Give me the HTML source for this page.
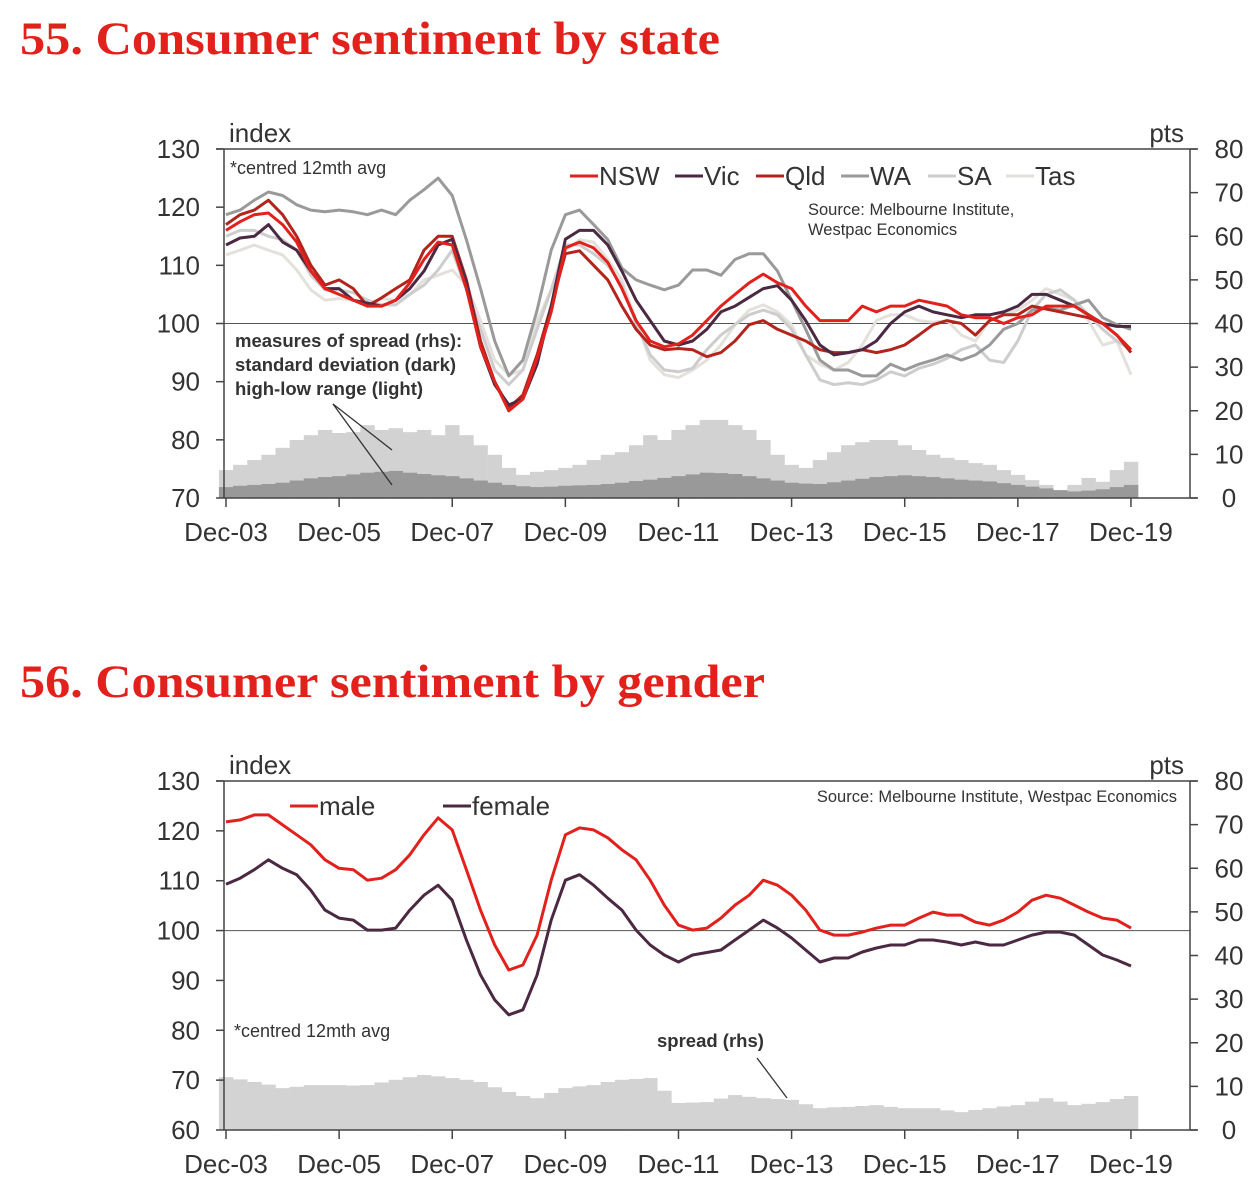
<!DOCTYPE html>
<html><head><meta charset="utf-8"><style>
html,body{margin:0;padding:0;background:#fff;}
svg{display:block;}
text{font-family:"Liberation Sans",sans-serif;fill:#333;}
.title{font-family:"Liberation Serif",serif;font-weight:bold;fill:#e2211c;font-size:47px;}
</style></head><body>
<svg id="svg" width="1256" height="1192" xmlns="http://www.w3.org/2000/svg">
<text class="title" x="20" y="54" textLength="700" lengthAdjust="spacingAndGlyphs">55. Consumer sentiment by state</text>
<text class="title" x="20" y="697" textLength="745" lengthAdjust="spacingAndGlyphs">56. Consumer sentiment by gender</text>
</svg>
<script>
// time axis: years since Dec-03, quarterly
const quarters = [];
for (let i = 0; i <= 64; i++) quarters.push(i / 4);
const xTickLabels = ["Dec-03","Dec-05","Dec-07","Dec-09","Dec-11","Dec-13","Dec-15","Dec-17","Dec-19"];

// Chart 55
const nsw = [116,117.5,118.7,119,117,114,109,106,105,104,103,103,104,107,111,114,113.5,106,96,90,85,87,94,102,113,114,113,110.5,106,100.5,97,96,96.5,98,100.5,103,105,107,108.5,107,106,103,100.5,100.5,100.5,103,102,103,103,104,103.5,103,101.5,101,101,100,101,101.5,103,103,103,101.5,100,98,95.5];
const vic = [113.5,114.7,115,117,114,112.6,109,106,106,104,103.5,103,104,106,109,113.5,114.5,107,96,89.5,86,87,93,103,114.5,116,116,113.5,109,104,100.5,97,96.3,97,99,102,103,104.5,106,106.5,104,100.5,96.3,94.6,95,95.5,97,100,102,103,102,101.5,101,101.5,101.5,102,103,105,105,104,103,101.5,100,99.5,99.5];
const qld = [117,118.7,119.5,121.2,118.7,115,110,106.6,107.5,106,103,104.4,106,107.5,112.6,115,115,107.5,97,90,85.5,87.7,94.6,103,112,112.5,110,107.5,103,99,96.3,95.5,95.7,95.5,94.3,95,97,99.8,100.5,99,98,97,95.5,95,95,95.5,95,95.5,96.3,98,99.8,100.5,100,98,100.5,101.5,101.5,103,102.5,102,101.5,101,100,98,95];
const wa = [118.7,119.5,121.2,122.6,122,120.4,119.5,119.2,119.5,119.2,118.7,119.5,118.7,121.2,123,125,122,114.4,106,97,91,93.7,102.3,112.6,118.7,119.5,117,114.4,109.5,107.5,106.6,105.8,106.6,109.2,109.2,108.3,111,112,112,109,104,99,93.7,92,92,91,91,93,92,93,93.7,94.6,93.7,94.6,96.3,99,100,102.3,102.6,102.3,103.2,104,101,99.8,99];
const sa = [115,116,116,115,114.4,112.6,108.3,105.8,105.8,105.3,104,103.2,103.2,105,106.6,109.2,112.6,105.8,99,92,89.5,92,99,105.8,113.5,113.5,112,110,106.6,100,94.6,92,91.7,92.3,95.5,98,99.8,101.5,102.3,101.5,99,94.6,90.3,89.5,89.8,89.5,90.3,91.7,91,92.3,93,94,95.5,96.3,93.7,93.3,97,102.3,105,105.8,104,101.5,99,97,95.5];
const tas = [111.8,112.6,113.5,112.6,111.8,109.2,105.8,104,104.3,104,103.2,104.3,104,105,107.5,108.3,109.2,106.6,100.5,93.7,91.2,92,100.5,105.8,112.6,114.4,114,111,107.5,100.5,93.7,91.2,90.7,92,93.7,96.3,99.8,102.3,103.2,102,99.8,94.6,93,92,93.3,96.3,100.5,101.5,101.5,100.5,100.2,100.5,98,97,100.5,101.5,102.3,104,106,105,104,100.5,96.3,97,91.2];
const rangeLight = [6.4,7.6,8.7,9.9,11.5,13.3,14.4,15.6,14.9,15.1,16.7,15.6,16,15.1,15.6,14.4,16.7,14.4,12.1,9.9,6.9,5.3,6,6.4,6.9,7.6,8.7,9.9,10.5,12.1,14.4,13.3,15.6,16.7,17.9,17.9,16.7,15.6,13.3,9.9,7.6,6.9,8.7,10.5,12.1,12.8,13.3,13.3,12.1,11,9.9,9.2,8.7,8,7.6,6.4,5.3,4.1,3,1.8,3,4.6,3.7,6.4,8.3];
const stdDark = [2.5,2.8,3,3.2,3.5,4,4.5,4.8,5,5.4,5.8,6,6.2,5.8,5.5,5.2,5,4.5,4,3.5,3,2.7,2.5,2.6,2.8,2.9,3,3.2,3.5,3.9,4.2,4.6,5,5.4,5.8,5.7,5.5,5,4.5,4,3.5,3.3,3.2,3.6,4,4.4,4.8,5,5.2,5,4.8,4.5,4.2,4,3.8,3.4,3,2.6,2.2,1.8,1.5,1.7,2,2.5,3];

// Chart 56
const male = [121.8,122.2,123.2,123.2,121.2,119.2,117.2,114.2,112.5,112.2,110.1,110.5,112.2,115.2,119.2,122.6,120.2,112.2,104.1,97.1,92.1,93.1,99.1,110.1,119.2,120.6,120.2,118.6,116.2,114.2,110.1,105.1,101.1,100.1,100.5,102.5,105.1,107.1,110.1,109.1,107.1,104.1,100.1,99.1,99.1,99.7,100.5,101.1,101.1,102.5,103.7,103.1,103.1,101.7,101.1,102.1,103.7,106.1,107.1,106.5,105.1,103.7,102.5,102.1,100.5];
const female = [109.3,110.5,112.2,114.2,112.5,111.2,108.1,104.1,102.5,102.1,100.1,100.1,100.5,104.1,107.1,109.1,106.1,98.1,91.1,86.1,83.1,84.1,91.1,102.1,110.1,111.2,109.1,106.5,104.1,100.1,97.1,95.1,93.7,95.1,95.6,96.1,98.1,100.1,102.1,100.5,98.5,96.1,93.7,94.5,94.5,95.7,96.5,97.1,97.1,98.1,98.1,97.7,97.1,97.7,97.1,97.1,98.1,99.1,99.7,99.7,99.1,97.1,95.1,94.1,92.9];
const spread = [12.1,11.6,11,10.4,9.6,9.9,10.3,10.3,10.3,10.2,10.3,10.9,11.5,12.1,12.6,12.3,11.9,11.5,11,9.8,8.7,7.8,7.3,8.5,9.6,10,10.3,11,11.5,11.7,11.9,9,6.2,6.3,6.4,7.2,8,7.6,7.3,7.1,6.9,5.9,5,5.2,5.3,5.5,5.7,5.3,5,5,5,4.5,4.1,4.6,5,5.4,5.7,6.5,7.3,6.5,5.7,6,6.4,7.1,7.8];

const leftTicks1 = [70,80,90,100,110,120,130];
const rightTicks1 = [0,10,20,30,40,50,60,70,80];
const leftTicks2 = [60,70,80,90,100,110,120,130];
const rightTicks2 = [0,10,20,30,40,50,60,70,80];

const NS = "http://www.w3.org/2000/svg";
const svg = document.getElementById('svg');
function mk(tag, attrs, parent, txt) {
  const e = document.createElementNS(NS, tag);
  for (const k in attrs) e.setAttribute(k, attrs[k]);
  if (txt !== undefined) e.textContent = txt;
  (parent || svg).appendChild(e);
  return e;
}
const X0 = 224, X1 = 1190;
function xs(t) { return 226 + t * 56.56; }

function drawChart(cfg) {
  const g = mk('g', {});
  
  
  const yl = v => cfg.top + (cfg.lmax - v) / (cfg.lmax - cfg.lmin) * (cfg.bot - cfg.top);
  const yr = v => cfg.bot - v / 80 * (cfg.bot - cfg.top);
  cfg.bars.forEach(b => {
    const bg = mk('g', {fill: b.color}, g);
    
    
    b.data.forEach((v, i) => {
      const x = xs(quarters[i] - 0.125);
      const r = mk('rect', {x: x, y: yr(v), width: 14.4, height: cfg.bot - yr(v)}, bg);
      
      
    });
  });
  const ref = mk('line', {x1: X0, x2: X1, y1: yl(100), y2: yl(100), stroke: '#555', 'stroke-width': 1}, g);
  
  
  cfg.lines.forEach(s => {
    const d = s.data.map((v, i) => (i ? 'L' : 'M') + xs(quarters[i]).toFixed(1) + ',' + yl(v).toFixed(1)).join('');
    const p = mk('path', {d: d, fill: 'none', stroke: s.color, 'stroke-width': 3, 'stroke-linejoin': 'round'}, g);
    
    
  });
  const ax = mk('g', {stroke: '#444', 'stroke-width': 1.5}, g);
  
  
  mk('line', {x1: 216, x2: 1197, y1: cfg.top, y2: cfg.top}, ax);
  mk('line', {x1: X0, x2: X0, y1: cfg.top, y2: cfg.bot}, ax);
  mk('line', {x1: X1, x2: X1, y1: cfg.top, y2: cfg.bot}, ax);
  mk('line', {x1: X0, x2: 1197, y1: cfg.bot, y2: cfg.bot}, ax);
  cfg.lt.forEach(v => {
    mk('line', {x1: 216, x2: X0, y1: yl(v), y2: yl(v)}, ax);
    const t = mk('text', {x: 200, y: yl(v) + 9, 'text-anchor': 'end', 'font-size': 26}, g, String(v));
    
    
  });
  cfg.rt.forEach(v => {
    mk('line', {x1: X1, x2: 1198, y1: yr(v), y2: yr(v)}, ax);
    const t = mk('text', {x: 1229, y: yr(v) + 9, 'text-anchor': 'middle', 'font-size': 26}, g, String(v));
    
    
  });
  xTickLabels.forEach((lab, i) => {
    const x = xs(i * 2);
    mk('line', {x1: x, x2: x, y1: cfg.bot, y2: cfg.bot + 9}, ax);
    const t = mk('text', {x: x, y: cfg.bot + 43, 'text-anchor': 'middle', 'font-size': 26}, g, lab);
    
    
  });
  const ti = mk('text', {x: 229, y: cfg.top - 7, 'font-size': 26}, g, 'index');
  
  
  const tp = mk('text', {x: 1184, y: cfg.top - 7, 'text-anchor': 'end', 'font-size': 26}, g, 'pts');
  
  
  return g;
}

drawChart({name: 'state-chart', top: 149, bot: 498, lmin: 70, lmax: 130, lt: leftTicks1, rt: rightTicks1,
  bars: [{name: 'high-low-range', color: '#d2d2d2', data: rangeLight}, {name: 'standard-deviation', color: '#999999', data: stdDark}],
  lines: [{name: 'tas', color: '#e4e1dc', data: tas}, {name: 'sa', color: '#cdcdcd', data: sa}, {name: 'wa', color: '#9a9a9a', data: wa},
          {name: 'qld', color: '#b3241d', data: qld}, {name: 'vic', color: '#4b2942', data: vic}, {name: 'nsw', color: '#e2211c', data: nsw}]});
drawChart({name: 'gender-chart', top: 781, bot: 1130, lmin: 60, lmax: 130, lt: leftTicks2, rt: rightTicks2,
  bars: [{name: 'spread', color: '#d3d3d3', data: spread}],
  lines: [{name: 'female', color: '#4b2942', data: female}, {name: 'male', color: '#e2211c', data: male}]});

function legend(x, y, color, label) {
  const g = mk('g', {});
  
  
  mk('line', {x1: x, x2: x + 28, y1: y - 9, y2: y - 9, stroke: color, 'stroke-width': 3}, g);
  mk('text', {x: x + 29, y: y, 'font-size': 26}, g, label);
}
legend(570, 185, '#e2211c', 'NSW');
legend(675, 185, '#4b2942', 'Vic');
legend(756, 185, '#b3241d', 'Qld');
legend(841, 185, '#9a9a9a', 'WA');
legend(928, 185, '#cdcdcd', 'SA');
legend(1006, 185, '#e4e1dc', 'Tas');
legend(290, 815, '#e2211c', 'male');
legend(443, 815, '#4b2942', 'female');

function txt(x, y, s, size, name, extra) {
  const t = mk('text', Object.assign({x: x, y: y, 'font-size': size}, extra || {}), svg, s);
  
  
}
txt(230, 174, '*centred 12mth avg', 18, 'footnote-centred-avg');
txt(808, 215, 'Source: Melbourne Institute,', 16.5, 'source-note-line1');
txt(808, 235, 'Westpac Economics', 16.5, 'source-note-line2');
txt(235, 347, 'measures of spread (rhs):', 18.5, 'annotation-spread-line1', {'font-weight': 'bold'});
txt(235, 371, 'standard deviation (dark)', 18.5, 'annotation-spread-line2', {'font-weight': 'bold'});
txt(235, 395, 'high-low range (light)', 18.5, 'annotation-spread-line3', {'font-weight': 'bold'});
txt(1177, 802, 'Source: Melbourne Institute, Westpac Economics', 16.5, 'source-note-gender', {'text-anchor': 'end'});
txt(234, 1037, '*centred 12mth avg', 18, 'footnote-centred-avg-gender');
txt(657, 1047, 'spread (rhs)', 18.5, 'annotation-spread-gender', {'font-weight': 'bold'});
const ld = mk('g', {stroke: '#333', 'stroke-width': 1.3});


mk('line', {x1: 333, y1: 404, x2: 392, y2: 450}, ld);
mk('line', {x1: 333, y1: 404, x2: 392, y2: 485}, ld);
mk('line', {x1: 757, y1: 1058, x2: 787, y2: 1098}, ld);
</script>
</body></html>
